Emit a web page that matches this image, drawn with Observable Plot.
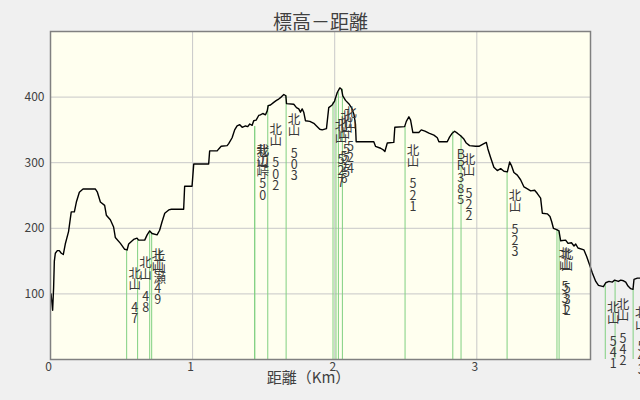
<!DOCTYPE html>
<html>
<head>
<meta charset="utf-8">
<script src="https://cdn.jsdelivr.net/npm/d3@7"></script>
<script src="https://cdn.jsdelivr.net/npm/@observablehq/plot@0.6"></script>
<style>
  html, body { margin: 0; padding: 0; background: #f0f0f0; }
  #chart { width: 640px; height: 400px; overflow: hidden; }
</style>
</head>
<body>
<div id="chart"></div>
<script>
// Elevation profile: distance (km) and elevation (m)
const distKm = [0.004,0.009,0.015,0.022,0.027,0.034,0.048,0.062,0.076,0.090,0.104,0.127,0.146,0.168,0.182,0.203,0.229,0.315,0.330,0.351,0.381,0.393,0.421,0.444,0.456,0.492,0.522,0.539,0.550,0.585,0.609,0.620,0.663,0.680,0.698,0.715,0.750,0.768,0.785,0.804,0.832,0.851,0.937,0.944,0.996,1.008,1.113,1.120,1.173,1.184,1.201,1.243,1.254,1.278,1.296,1.313,1.332,1.349,1.372,1.388,1.402,1.419,1.430,1.447,1.465,1.477,1.494,1.513,1.525,1.532,1.548,1.571,1.590,1.606,1.623,1.642,1.656,1.661,1.712,1.731,1.747,1.759,1.771,1.782,1.794,1.825,1.853,1.872,1.895,1.912,1.942,1.958,1.982,1.999,2.018,2.036,2.048,2.057,2.076,2.099,2.118,2.135,2.146,2.151,2.275,2.287,2.323,2.339,2.353,2.370,2.416,2.423,2.492,2.504,2.522,2.534,2.550,2.592,2.609,2.635,2.663,2.698,2.722,2.733,2.792,2.808,2.827,2.844,2.863,2.886,2.909,2.926,2.949,2.991,3.015,3.050,3.067,3.078,3.097,3.120,3.144,3.168,3.191,3.215,3.231,3.243,3.261,3.285,3.308,3.332,3.356,3.379,3.407,3.426,3.449,3.461,3.496,3.515,3.527,3.539,3.562,3.578,3.590,3.625,3.642,3.666,3.684,3.696,3.712,3.754,3.773,3.797,3.813,3.837,3.856,3.891,3.907,3.930,3.954,3.970,3.996,4.013,4.032,4.048,4.064,4.083,4.099,4.106,4.130,4.153];
const elevM = [100,88,75,110,150,162,166,166,162,160,176,195,225,225,240,255,260,260,255,240,235,220,213,202,186,177,168,167,176,183,185,182,182,190,196,192,190,197,210,223,228,229,229,264,264,298,298,318,318,321,325,326,329,338,350,356,358,354,356,355,359,357,364,365,372,373,375,373,379,387,388,392,395,397,400,404,402,390,389,384,382,377,382,377,364,363,360,356,351,350,352,384,388,394,407,414,412,402,395,390,384,374,359,332,332,325,322,320,317,330,331,354,355,363,370,365,346,346,350,348,345,342,338,332,332,339,345,348,345,341,336,330,326,325,325,329,331,321,308,293,288,291,287,286,301,296,285,281,274,263,260,257,258,253,246,223,222,218,210,200,198,196,181,182,177,178,173,176,170,167,157,142,132,119,113,111,117,119,118,121,119,121,120,118,112,108,107,122,124,124];

// Waypoints
const wpDist = [0.536,0.613,0.698,0.712,1.437,1.437,1.529,1.658,1.988,2.009,2.026,2.054,2.495,2.831,2.889,3.213,3.564,3.579,3.904,3.973,4.100];
const wpElev = [167,183,196,193,355,355,387,402,392,397,407,412,355,348,341,286,198,196,115,120,107];
const wpName = ["北山 47","北山 48","北山 49","土山瀬","北山 50","栽辺峠","北山 502","北山 503","北山 527","北山 526","北山 525","北山 524","北山 521","BR385","北山 522","北山 523","北山 531","北山 532","北山 541","北山 542","北山 543"];

const xTicks = [0, 1, 2, 3];
const yTicks = [100, 200, 300, 400];
const titleText = "標高－距離";
const xLabel = "距離（Km）";

const profile = distKm.map((d, i) => ({d, e: elevM[i]}));
const wp = wpDist.map((d, i) => ({d, e: wpElev[i], name: wpName[i]}));

const font = "'Noto Sans CJK JP', 'DejaVu Sans', sans-serif";

const chart = Plot.plot({
  width: 640,
  height: 400,
  marginTop: 31,
  marginLeft: 50,
  marginRight: 50,
  marginBottom: 41,
  style: {background: "transparent", fontFamily: font, fontSize: "12px", color: "#404040", overflow: "hidden"},
  x: {domain: [0, 3.8], label: null},
  y: {domain: [0, 500], label: null},
  marks: [
    Plot.frame({fill: "#ffffef", stroke: null}),
    Plot.gridX(xTicks, {stroke: "#c8c8c8", strokeOpacity: 1}),
    Plot.gridY(yTicks, {stroke: "#c8c8c8", strokeOpacity: 1}),
    Plot.axisX(xTicks, {tickSize: 0, tickPadding: 3, dx: -2, fontSize: 12, fill: "#404040", label: null, tickFormat: d => String(d)}),
    Plot.axisY(yTicks, {tickSize: 0, tickPadding: 6, fontSize: 12, fill: "#404040", label: null, tickFormat: d => String(d)}),
    Plot.ruleX(wp, {x: "d", y1: 0, y2: "e", stroke: "#80d080", strokeWidth: 1}),
    Plot.line(profile, {x: "d", y: "e", stroke: "black", strokeWidth: 1.4}),
    Plot.text(wp, {
      x: "d", y: "e",
      text: w => Array.from(w.name).join("\n"),
      lineAnchor: "top", textAnchor: "middle", lineHeight: 0.9,
      dx: 8, dy: 20, fontSize: 12.5, fill: "#3a3a3a"
    }),
    Plot.frame({stroke: "#808080", strokeWidth: 1.5}),
    Plot.text([titleText], {text: d => d, frameAnchor: "top", dy: -16, fontSize: 19, fill: "#404040"}),
    Plot.text([xLabel], {text: d => d, frameAnchor: "bottom", dy: 23, dx: -12, fontSize: 15, fill: "#404040"})
  ]
});
document.getElementById("chart").appendChild(chart);
</script>
</body>
</html>
